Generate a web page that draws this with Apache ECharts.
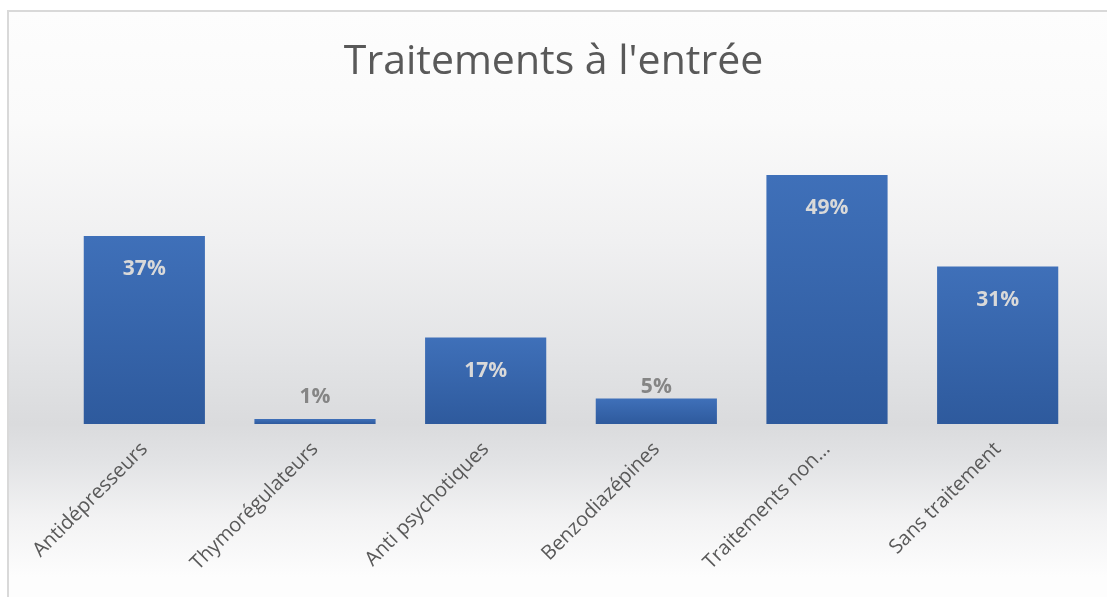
<!DOCTYPE html>
<html>
<head>
<meta charset="utf-8">
<script src="https://cdn.jsdelivr.net/npm/echarts@6/dist/echarts.min.js"></script>
<style>
  html, body { margin: 0; padding: 0; background: #fff; }
  .frame {
    position: absolute; left: 7px; top: 10px; width: 1100px; height: 587px;
    border-left: 2px solid #d9d9d9; border-top: 2px solid #d9d9d9;
    background: linear-gradient(to bottom, #fdfdfd 0px, #fafafa 110px, #f0f0f1 230px, #e3e4e6 340px, #dadbdd 412px, #e2e3e5 450px, #f2f2f3 505px, #fdfdfd 565px);
  }
  #chart { position: absolute; left: 0; top: 0; width: 1107px; height: 597px; }
</style>
</head>
<body>
<div class="frame"></div>
<div id="chart"></div>
<script>
  // catégories et valeurs (%)
  var categories = ['Antidépresseurs', 'Thymorégulateurs', 'Anti psychotiques', 'Benzodiazépines', 'Traitements non…', 'Sans traitement'];
  var values = [37, 1, 17, 5, 49, 31];

  var myChart = echarts.init(document.getElementById('chart'));

  var barData = values.map(function (v) {
    var small = v < 10;
    return {
      value: v,
      label: small ? {
        position: 'top',
        distance: v < 3 ? 11 : 1,
        color: '#858585'
      } : {
        position: 'insideTop',
        distance: 23,
        color: '#d9d9d9'
      }
    };
  });

  var options = {
    backgroundColor: 'transparent',
    title: {
      text: "Traitements à l'entrée",
      left: 'center',
      top: 37,
      textStyle: {
        fontFamily: 'Open Sans',
        fontWeight: 'normal',
        fontSize: 41,
        color: '#595959'
      }
    },
    grid: {
      left: 59,
      right: 24,
      top: 119,
      bottom: 173
    },
    xAxis: {
      type: 'category',
      data: categories,
      axisLine: { show: false },
      axisTick: { show: false },
      axisLabel: {
        rotate: 45,
        margin: 22,
        interval: 0,
        fontFamily: 'Open Sans',
        fontSize: 20,
        color: '#595959'
      }
    },
    yAxis: {
      type: 'value',
      min: 0,
      max: 60,
      show: false,
      splitLine: { show: false }
    },
    series: [
      {
        type: 'bar',
        data: barData,
        barCategoryGap: '29%',
        itemStyle: {
          color: new echarts.graphic.LinearGradient(0, 0, 0, 1, [
            { offset: 0, color: '#3f70b9' },
            { offset: 1, color: '#2e5a9d' }
          ])
        },
        label: {
          show: true,
          formatter: '{c}%',
          fontFamily: 'Open Sans',
          fontWeight: 'bold',
          fontSize: 21
        }
      }
    ]
  };

  myChart.setOption(options);
</script>
</body>
</html>
